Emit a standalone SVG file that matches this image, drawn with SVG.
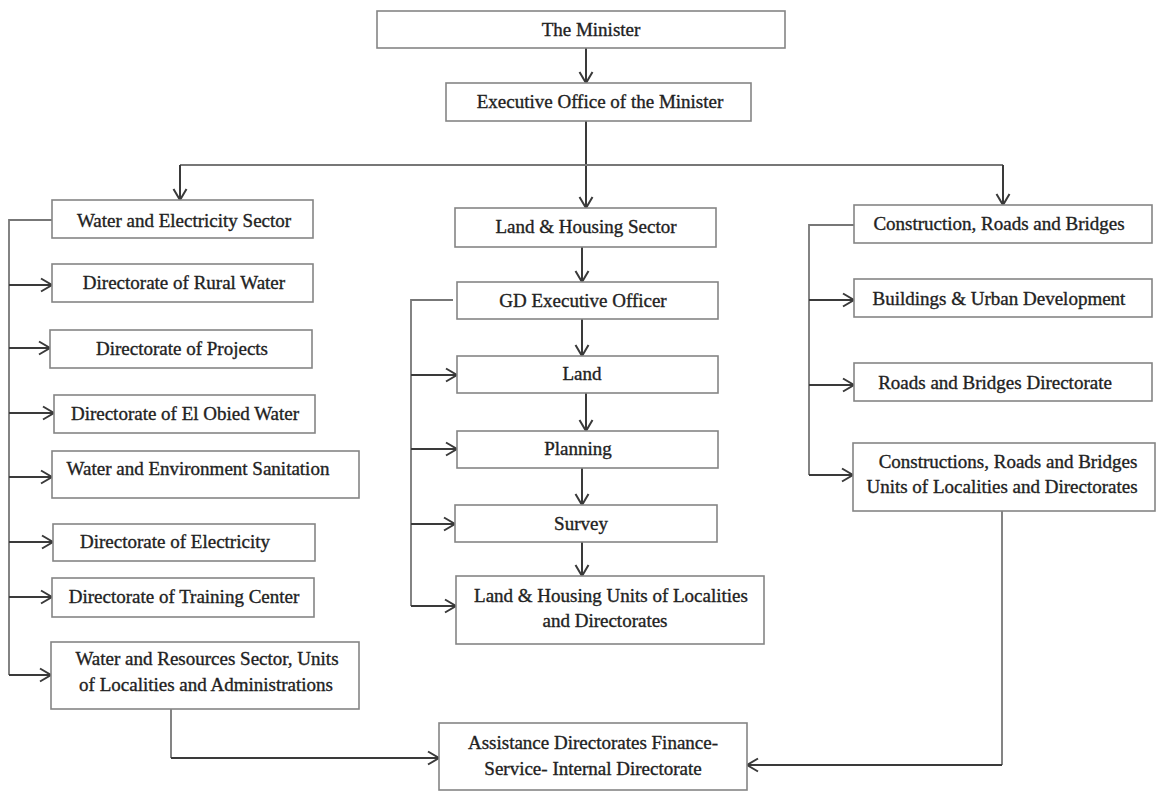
<svg xmlns="http://www.w3.org/2000/svg" width="1156" height="791" viewBox="0 0 1156 791">
  <style>
    .box { fill: #ffffff; stroke: #858585; stroke-width: 1.6; }
    .lbl { font-family: "Liberation Serif", "Times New Roman", serif; font-size: 19px; fill: #222222; stroke: #222222; stroke-width: 0.35; text-anchor: middle; }
    .wire { fill: none; stroke: #3a3a3a; stroke-width: 2; }
    .spine { fill: none; stroke: #777777; stroke-width: 1.8; }
  </style>
  <defs>
    <marker id="arrow" markerUnits="userSpaceOnUse" markerWidth="14" markerHeight="16" viewBox="-1 -8 13 16" refX="11" refY="0" orient="auto">
      <path d="M0,-6.5 L11,0 L0,6.5" fill="none" stroke="#3a3a3a" stroke-width="2"/>
    </marker>
  </defs>
  <rect width="1156" height="791" fill="#ffffff"/>

  <!-- connectors -->
  <g id="connectors">
    <!-- top chain -->
    <path class="wire" d="M586,48 V83" marker-end="url(#arrow)"/>
    <path class="wire" d="M586,121 V208" marker-end="url(#arrow)"/>
    <path class="spine" d="M180,165 H1003"/>
    <path class="wire" d="M180,165 V200" marker-end="url(#arrow)"/>
    <path class="wire" d="M1003,165 V205" marker-end="url(#arrow)"/>

    <!-- water and electricity branch -->
    <path class="spine" d="M52,220 H9 V675"/>
    <path class="wire" d="M9,285 H52" marker-end="url(#arrow)"/>
    <path class="wire" d="M9,348 H50" marker-end="url(#arrow)"/>
    <path class="wire" d="M9,413 H54" marker-end="url(#arrow)"/>
    <path class="wire" d="M9,477 H52" marker-end="url(#arrow)"/>
    <path class="wire" d="M9,542 H53" marker-end="url(#arrow)"/>
    <path class="wire" d="M9,597 H52" marker-end="url(#arrow)"/>
    <path class="wire" d="M9,675 H51" marker-end="url(#arrow)"/>

    <!-- land and housing branch -->
    <path class="wire" d="M582,247 V282" marker-end="url(#arrow)"/>
    <path class="spine" d="M453,300 H411 V606"/>
    <path class="wire" d="M411,375 H457" marker-end="url(#arrow)"/>
    <path class="wire" d="M411,449 H457" marker-end="url(#arrow)"/>
    <path class="wire" d="M411,524 H455" marker-end="url(#arrow)"/>
    <path class="wire" d="M411,606 H456" marker-end="url(#arrow)"/>
    <path class="wire" d="M582,319 V356" marker-end="url(#arrow)"/>
    <path class="wire" d="M586,393 V431" marker-end="url(#arrow)"/>
    <path class="wire" d="M582,468 V505" marker-end="url(#arrow)"/>
    <path class="wire" d="M582,542 V576" marker-end="url(#arrow)"/>

    <!-- construction branch -->
    <path class="spine" d="M854,225 H809 V475"/>
    <path class="wire" d="M809,300 H854" marker-end="url(#arrow)"/>
    <path class="wire" d="M809,385 H854" marker-end="url(#arrow)"/>
    <path class="wire" d="M809,475 H853" marker-end="url(#arrow)"/>

    <!-- into assistance directorates -->
    <path class="spine" d="M171,709 V758"/>
    <path class="wire" d="M171,758 H439" marker-end="url(#arrow)"/>
    <path class="spine" d="M1002,511 V765"/>
    <path class="wire" d="M1002,765 H747" marker-end="url(#arrow)"/>
  </g>

  <!-- top -->
  <g id="minister">
    <rect class="box" x="377" y="11" width="408" height="37"/>
    <text class="lbl" x="591" y="36">The Minister</text>
  </g>
  <g id="executive-office">
    <rect class="box" x="446" y="83" width="305" height="38"/>
    <text class="lbl" x="600" y="108">Executive Office of the Minister</text>
  </g>

  <!-- water and electricity sector -->
  <g id="water-electricity">
    <rect class="box" x="52" y="200" width="261" height="38"/>
    <text class="lbl" x="184" y="227">Water and Electricity Sector</text>
  </g>
  <g id="rural-water">
    <rect class="box" x="52" y="264" width="261" height="38"/>
    <text class="lbl" x="184" y="289">Directorate of Rural Water</text>
  </g>
  <g id="projects">
    <rect class="box" x="50" y="330" width="262" height="38"/>
    <text class="lbl" x="182" y="355">Directorate of Projects</text>
  </g>
  <g id="el-obied-water">
    <rect class="box" x="54" y="395" width="261" height="38"/>
    <text class="lbl" x="185" y="420">Directorate of El Obied Water</text>
  </g>
  <g id="water-env-sanitation">
    <rect class="box" x="52" y="451" width="307" height="47"/>
    <text class="lbl" x="198" y="475">Water and Environment Sanitation</text>
  </g>
  <g id="electricity">
    <rect class="box" x="53" y="524" width="262" height="37"/>
    <text class="lbl" x="175" y="548">Directorate of Electricity</text>
  </g>
  <g id="training-center">
    <rect class="box" x="52" y="578" width="262" height="39"/>
    <text class="lbl" x="184" y="603">Directorate of Training Center</text>
  </g>
  <g id="water-resources">
    <rect class="box" x="51" y="642" width="308" height="67"/>
    <text class="lbl" x="207" y="665">Water and Resources Sector, Units</text>
    <text class="lbl" x="206" y="691">of Localities and Administrations</text>
  </g>

  <!-- land and housing sector -->
  <g id="land-housing">
    <rect class="box" x="455" y="208" width="261" height="39"/>
    <text class="lbl" x="586" y="233">Land &amp; Housing Sector</text>
  </g>
  <g id="gd-executive">
    <rect class="box" x="457" y="282" width="261" height="37"/>
    <text class="lbl" x="583" y="307">GD Executive Officer</text>
  </g>
  <g id="land">
    <rect class="box" x="457" y="356" width="261" height="37"/>
    <text class="lbl" x="582" y="380">Land</text>
  </g>
  <g id="planning">
    <rect class="box" x="457" y="431" width="261" height="37"/>
    <text class="lbl" x="578" y="455">Planning</text>
  </g>
  <g id="survey">
    <rect class="box" x="455" y="505" width="262" height="37"/>
    <text class="lbl" x="581" y="530">Survey</text>
  </g>
  <g id="land-housing-units">
    <rect class="box" x="456" y="576" width="308" height="68"/>
    <text class="lbl" x="611" y="602">Land &amp; Housing Units of Localities</text>
    <text class="lbl" x="605" y="627">and Directorates</text>
  </g>

  <!-- construction sector -->
  <g id="construction">
    <rect class="box" x="854" y="205" width="298" height="38"/>
    <text class="lbl" x="999" y="230">Construction, Roads and Bridges</text>
  </g>
  <g id="buildings">
    <rect class="box" x="854" y="279" width="298" height="38"/>
    <text class="lbl" x="999" y="305">Buildings &amp; Urban Development</text>
  </g>
  <g id="roads-bridges">
    <rect class="box" x="854" y="363" width="298" height="38"/>
    <text class="lbl" x="995" y="389">Roads and Bridges Directorate</text>
  </g>
  <g id="construction-units">
    <rect class="box" x="853" y="443" width="302" height="68"/>
    <text class="lbl" x="1008" y="468">Constructions, Roads and Bridges</text>
    <text class="lbl" x="1002" y="493">Units of Localities and Directorates</text>
  </g>

  <!-- shared services -->
  <g id="assistance">
    <rect class="box" x="439" y="723" width="308" height="67"/>
    <text class="lbl" x="593" y="749">Assistance Directorates Finance-</text>
    <text class="lbl" x="593" y="775">Service- Internal Directorate</text>
  </g>
</svg>
